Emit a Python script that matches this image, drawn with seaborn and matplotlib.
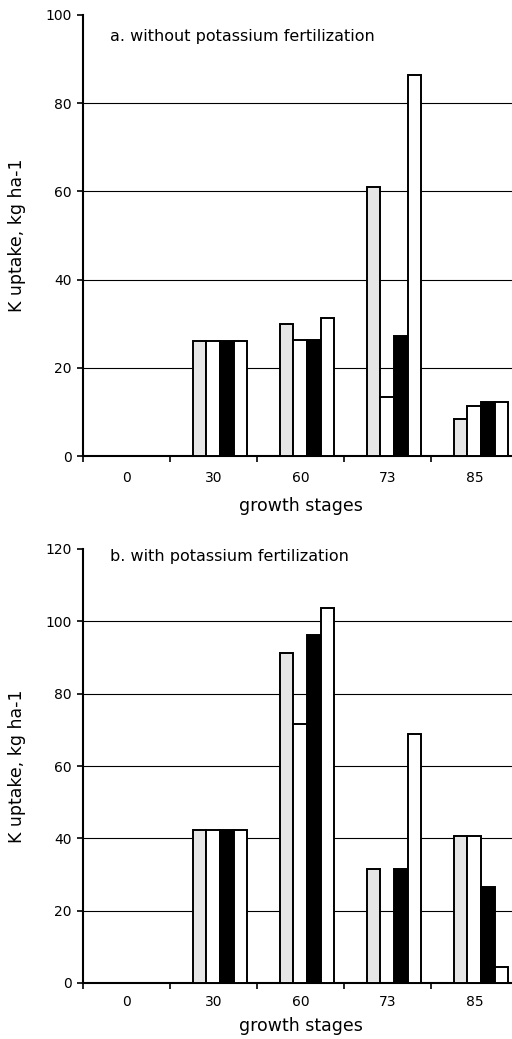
import matplotlib
matplotlib.use("Agg")
import matplotlib.pyplot as plt
import seaborn as sns
import pandas as pd
import numpy as np

# ---- data ----
stages = ["0", "30", "60", "73", "85"]
treatments = ["T1", "T2", "T3", "T4"]
uptake_without_K = {
    "T1": [0, 26, 30, 61, 8.3],
    "T2": [0, 26, 26.2, 13.3, 11.4],
    "T3": [0, 26, 26.4, 27.2, 12.3],
    "T4": [0, 26, 31.3, 86.3, 12.3],
}
uptake_with_K = {
    "T1": [0, 42.3, 91.2, 31.6, 40.6],
    "T2": [0, 42.3, 71.7, 0, 40.7],
    "T3": [0, 42.3, 96.3, 31.6, 26.5],
    "T4": [0, 42.3, 103.8, 68.8, 4.4],
}
titles = ["a. without potassium fertilization", "b. with potassium fertilization"]
y_max = [100, 120]
bar_colors = ["#e6e6e6", "#ffffff", "#000000", "#ffffff"]


def long_frame(d):
    rows = []
    for t in treatments:
        for s, v in zip(stages, d[t]):
            rows.append({"stage": s, "treatment": t, "uptake": v})
    return pd.DataFrame(rows)


sns.set_theme(style="white")
plt.rcParams["font.family"] = ["DejaVu Sans"]
plt.rcParams["text.color"] = "black"
plt.rcParams["axes.labelcolor"] = "black"
plt.rcParams["xtick.color"] = "black"
plt.rcParams["ytick.color"] = "black"

fig = plt.figure(figsize=(5.12, 10.39), dpi=100)
W, H = 512, 1039
# axes boxes in pixels: (left, top, right, bottom)
boxes = [(83, 15, 518, 456), (83, 549, 518, 983)]
xlabel_y = [-0.093, -0.078]
tick_pad = [11, 9]
title_y = [0.952, 0.982]
shift = 0.075

for i, (data, box) in enumerate(zip([uptake_without_K, uptake_with_K], boxes)):
    l, t, r, b = box
    ax = fig.add_axes([l / W, 1 - b / H, (r - l) / W, (b - t) / H])
    df = long_frame(data)
    sns.barplot(data=df, x="stage", y="uptake", hue="treatment", order=stages,
                hue_order=treatments, palette=bar_colors, width=0.63,
                edgecolor="black", linewidth=1.4, legend=False, ax=ax, zorder=3)
    ax.set_xlim(-0.5 - shift, 4.5 - shift)
    ax.set_ylim(0, y_max[i])
    yt = np.arange(0, y_max[i] + 1, 20)
    ax.set_yticks(yt)
    ax.set_yticklabels([str(v) for v in yt], fontsize=10, color="black")
    for v in yt[1:-1]:
        ax.axhline(v, color="black", lw=0.8, zorder=1)
    # tick labels at category centres, tick marks at category boundaries
    ax.set_xticks(np.arange(5) - shift)
    ax.set_xticklabels(stages, fontsize=10, color="black")
    ax.set_xticks(np.arange(6) - 0.5 - shift, minor=True)
    ax.tick_params(axis="x", which="major", length=0, pad=tick_pad[i])
    ax.tick_params(axis="x", which="minor", length=4, width=1.2, color="black",
                   direction="out", bottom=True)
    ax.tick_params(axis="y", which="major", length=4, width=1.2, color="black",
                   direction="out", left=True, pad=4)
    for side in ["top", "right"]:
        ax.spines[side].set_visible(False)
    for side in ["left", "bottom"]:
        ax.spines[side].set_color("black")
        ax.spines[side].set_linewidth(1.5)
    ax.set_xlabel("growth stages", fontsize=12.5, color="black")
    ax.set_ylabel("K uptake, kg ha-1", fontsize=12.5, color="black")
    ax.xaxis.set_label_coords(0.5, xlabel_y[i])
    ax.yaxis.set_label_coords(-0.131, 0.5)
    ax.text(0.062, title_y[i], titles[i], transform=ax.transAxes,
            fontsize=11.5, ha="left", va="center", color="black")
    ax.set_facecolor("white")

fig.savefig("out.png", dpi=100, facecolor="white")
